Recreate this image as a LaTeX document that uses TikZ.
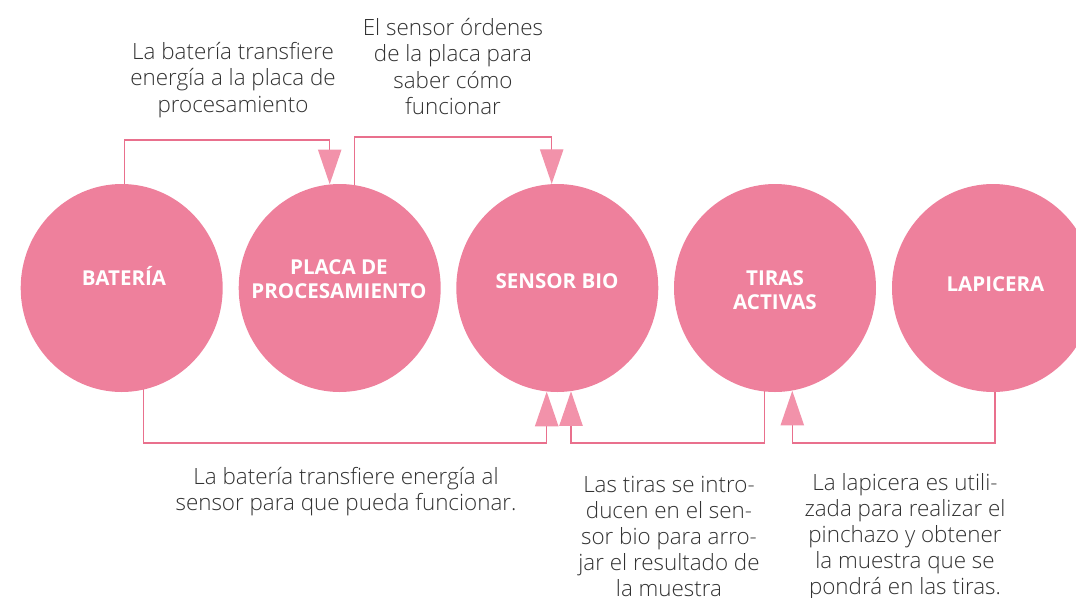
\documentclass[tikz,border=0pt]{standalone}
\usepackage{fontspec}
\setmainfont{Open Sans}
\IfFontExistsTF{Open Sans Light}{\newfontfamily\notefont{Open Sans Light}}{\newfontfamily\notefont{Open Sans}}
\usetikzlibrary{arrows.meta,calc,backgrounds,shapes.geometric}
\definecolor{bubblepink}{RGB}{238,128,156}
\definecolor{linkline}{RGB}{233,112,141}
\definecolor{linkhead}{RGB}{242,146,170}
\definecolor{bodytext}{RGB}{50,50,50}

\begin{document}
\begin{tikzpicture}[x=0.75pt,y=0.75pt,yscale=-1,
  bubble/.style={ellipse,fill=bubblepink,draw=none,minimum width=151.5pt,minimum height=156pt,inner sep=0pt},
  caption/.style={text=white,font=\bfseries\fontsize{15.4}{18}\selectfont,align=center,inner sep=0pt},
  note/.style={text=bodytext,font=\notefont\fontsize{16.8}{19.6}\selectfont,align=center,inner sep=0pt},
  link/.style={draw=linkline,line width=1pt,-{Triangle[length=26pt,width=17.5pt,color=linkhead]}}]
%set diagram size
\useasboundingbox (0,0) rectangle (1076,597);

%Shape: Circles
\node [bubble] (bat) at (121.7,288) {};
\node [bubble] (placa) at (339.7,288) {};
\node [bubble] (sensor) at (557.3,288) {};
\node [bubble] (tiras) at (775,288) {};
\node [bubble] (lapi) at (993,288) {};

% Circle labels
\node [caption,text height=11pt,text depth=0pt] (batlbl) at (124,278.3) {BATERÍA};
\node [caption] (placalbl) at (339,278.7) {PLACA DE\\PROCESAMIENTO};
\node [caption] (sensorlbl) at (557,281) {SENSOR BIO};
\node [caption] (tiraslbl) at (775,290) {TIRAS\\ACTIVAS};
\node [caption] (lapilbl) at (995.5,284) {LAPICERA};

%Connectors (behind the circles)
\begin{scope}[on background layer]
\draw [link] ($(bat.center)+(3,0)$) -- ++(0,-148) -| ($(placa.north)+(-10,0.5)$);
\draw [link] ($(placa.center)+(15,0)$) -- ++(0,-151) -| ($(sensor.north)+(-5.6,0.2)$);
\draw [link] ($(bat.center)+(22,0)$) -- ++(0,155) -| ($(sensor.south)+(-10.6,-0.6)$);
\draw [link] ($(tiras.center)+(-10.7,0)$) -- ++(0,155) -| ($(sensor.south)+(13.7,-1)$);
\draw [link] ($(lapi.center)+(2,0)$) -- ++(0,155) -| ($(tiras.south)+(17.3,-1.5)$);
\end{scope}

% Text Node
\node [note] (toptxta) at (233,80) {La batería transfiere\\energía a la placa de\\procesamiento};
% Text Node
\node [note] (toptxtb) at (453,66.5) {El sensor órdenes\\de la placa para\\saber cómo\\funcionar};
% Text Node
\node [note] (bottxta) at (346,492) {La batería transfiere energía al\\sensor para que pueda funcionar.};
% Text Node
\node [note] (bottxtb) at (669,536.5) {Las tiras se intro-\\ducen en el sen-\\sor bio para arro-\\jar el resultado de\\la muestra};
% Text Node
\node [note] (bottxtc) at (905,536.5) {La lapicera es utili-\\zada para realizar el\\pinchazo y obtener\\la muestra que se\\pondrá en las tiras.};

\end{tikzpicture}
\end{document}
